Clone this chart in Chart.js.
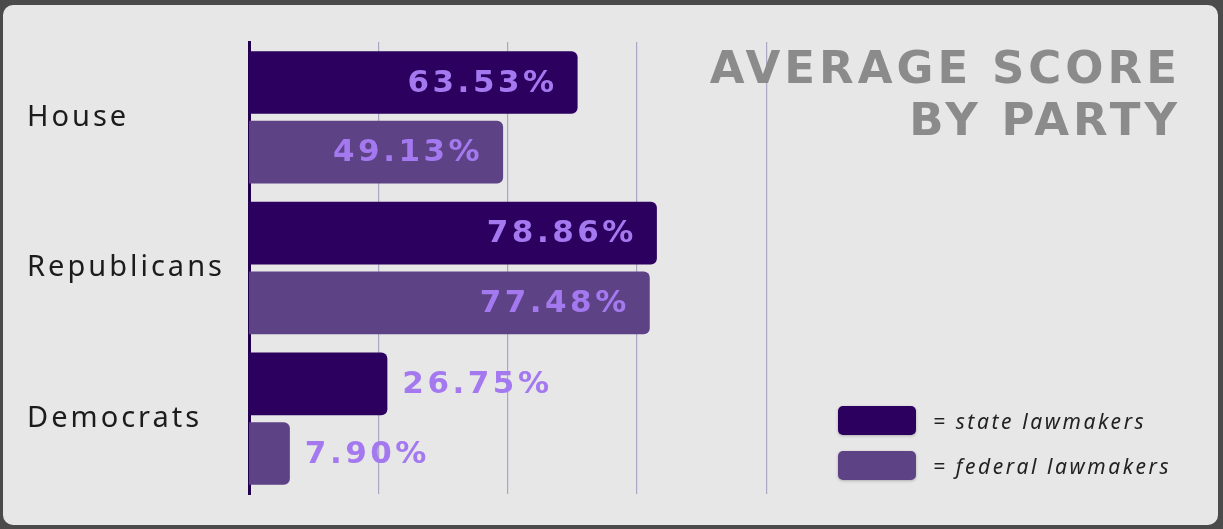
<!DOCTYPE html>
<html>
<head>
<meta charset="utf-8">
<script src="https://cdn.jsdelivr.net/npm/chart.js@4"></script>
<style>
  html, body { margin: 0; padding: 0; }
  body { width: 1223px; height: 529px; background: #4b4b4b; position: relative; overflow: hidden; }
  .card { position: absolute; left: 3px; top: 5px; width: 1215px; height: 520px; background: #e7e7e7; border-radius: 10px; }
  #wrap { position: absolute; left: 0; top: 0; width: 1223px; height: 529px; }
  .titulo { position: absolute; right: 42px; top: 42px; text-align: right; color: #8b8b8b;
    font: 700 45px "DejaVu Sans", sans-serif; letter-spacing: 4px; line-height: 52px; }
  .leyenda { position: absolute; left: 838px; top: 406px; font: italic 21px "Noto Sans", sans-serif; color: #222; letter-spacing: 2.6px; }
  .leyenda div { display: flex; align-items: center; height: 29px; margin-bottom: 16px; }
  .leyenda span.sw { width: 78px; height: 29px; border-radius: 5px; margin-right: 17px; box-shadow: 0 1px 3px rgba(0,0,0,0.25); }
</style>
</head>
<body>
<div class="card"></div>
<div id="wrap"><canvas id="chartPartidos"></canvas></div>
<div class="titulo">AVERAGE SCORE<br>BY PARTY</div>
<div class="leyenda" id="leyenda"></div>
<script>
const categorias = ['House', 'Republicans', 'Democrats'];
const seriesNombres = ['= state lawmakers', '= federal lawmakers'];
const estatales = [63.53, 78.86, 26.75];
const federales = [49.13, 77.48, 7.90];
const colores = ['#2b005e', '#5d4285'];
const ticksX = [25, 50, 75, 100];

// leyenda en html
const ley = document.getElementById('leyenda');
seriesNombres.forEach((n, i) => {
  const d = document.createElement('div');
  d.innerHTML = '<span class="sw" style="background:' + colores[i] + '"></span><span>' + n + '</span>';
  ley.appendChild(d);
});

// espaciado de letras para las etiquetas del eje
const espaciado = {
  id: 'espaciado',
  beforeDraw(chart) { chart.ctx.letterSpacing = '3px'; },
  afterDraw(chart) { chart.ctx.letterSpacing = '0px'; }
};

const etiquetas = {
  id: 'etiquetas',
  afterDatasetsDraw(chart) {
    const ctx = chart.ctx;
    ctx.save();
    ctx.font = '700 31px "DejaVu Sans", sans-serif';
    ctx.letterSpacing = '3.5px';
    ctx.fillStyle = '#a479f0';
    ctx.textBaseline = 'middle';
    chart.data.datasets.forEach((ds, i) => {
      const meta = chart.getDatasetMeta(i);
      meta.data.forEach((bar, j) => {
        const txt = ds.data[j].toFixed(2) + '%';
        const w = ctx.measureText(txt).width;
        const largo = bar.x - bar.base;
        if (largo > w + 40) {
          ctx.textAlign = 'right';
          ctx.fillText(txt, bar.x - 20, bar.y + 1);
        } else {
          ctx.textAlign = 'left';
          ctx.fillText(txt, bar.x + 15, bar.y + 1);
        }
      });
    });
    ctx.restore();
  }
};

new Chart(document.getElementById('chartPartidos').getContext('2d'), {
  type: 'bar',
  data: {
    labels: categorias,
    datasets: [
      { label: seriesNombres[0], data: estatales, backgroundColor: colores[0],
        borderRadius: { topRight: 6, bottomRight: 6 }, borderSkipped: 'start',
        categoryPercentage: 0.925, barPercentage: 0.9 },
      { label: seriesNombres[1], data: federales, backgroundColor: colores[1],
        borderRadius: { topRight: 6, bottomRight: 6 }, borderSkipped: 'start',
        categoryPercentage: 0.925, barPercentage: 0.9 }
    ]
  },
  options: {
    indexAxis: 'y',
    responsive: true,
    maintainAspectRatio: false,
    animation: false,
    layout: { padding: { left: 27, top: 42, right: 43, bottom: 35 } },
    plugins: { legend: { display: false }, title: { display: false }, tooltip: { enabled: false } },
    scales: {
      x: {
        min: 0, max: 180,
        afterBuildTicks: s => { s.ticks = ticksX.map(v => ({ value: v })); },
        afterFit: s => { s.height = 0; },
        ticks: { display: false },
        border: { display: false },
        grid: { color: '#aca7c2', lineWidth: 1.2, drawTicks: false }
      },
      y: {
        afterFit: s => { s.width = 222; },
        ticks: { crossAlign: 'far', color: '#1c1c1c', padding: 0,
          font: { family: '"Noto Sans", sans-serif', size: 29 } },
        grid: { display: false, drawTicks: false },
        border: { display: true, color: '#22004f', width: 3 }
      }
    }
  },
  plugins: [espaciado, etiquetas]
});
</script>
</body>
</html>
